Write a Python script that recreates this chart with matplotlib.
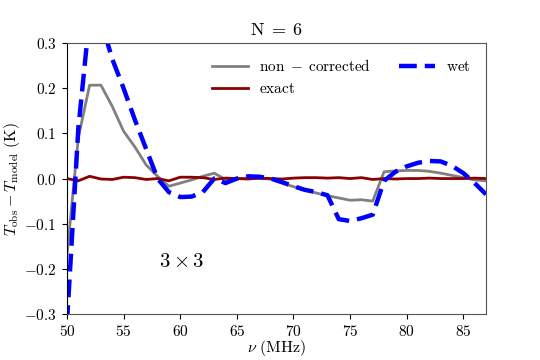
import numpy as np
import matplotlib
matplotlib.use('Agg')
import matplotlib.pyplot as plt

# frequencias (MHz)
nu = np.arange(50, 88)

# residuos (K)
non_corrected = [-0.17, 0.09, 0.207, 0.207, 0.16, 0.105, 0.07, 0.03, 0.005, -0.017,
                 -0.01, -0.003, 0.005, 0.012, -0.002, 0.0, 0.001, 0.0, -0.001, -0.01,
                 -0.018, -0.025, -0.032, -0.038, -0.043, -0.048, -0.047, -0.05, 0.015, 0.017,
                 0.018, 0.018, 0.016, 0.012, 0.007, 0.002, -0.003, -0.005]
exact = [0.0, -0.005, 0.005, -0.001, -0.002, 0.003, 0.002, -0.002, 0.0, -0.005,
         0.003, 0.003, 0.002, -0.002, 0.001, 0.0, -0.001, 0.001, 0.0, -0.001,
         0.001, 0.002, 0.002, 0.001, 0.002, 0.0, 0.002, -0.002, 0.0, -0.001,
         0.0, 0.0, 0.001, 0.0, 0.0, 0.0, 0.001, 0.0]
wet = [-0.32, 0.11, 0.36, 0.35, 0.265, 0.2, 0.13, 0.065, 0.0, -0.03,
       -0.041, -0.04, -0.03, 0.0, -0.01, 0.0, 0.005, 0.004, 0.0, -0.008,
       -0.017, -0.025, -0.03, -0.037, -0.09, -0.094, -0.088, -0.08, -0.005, 0.015,
       0.027, 0.035, 0.039, 0.038, 0.028, 0.012, -0.01, -0.035]

plt.rcParams['mathtext.fontset'] = 'cm'
plt.rcParams['font.family'] = 'serif'
plt.rcParams['font.serif'] = ['cmr10', 'DejaVu Serif']
plt.rcParams['axes.formatter.use_mathtext'] = True
plt.rcParams['axes.unicode_minus'] = True

fig, ax = plt.subplots(figsize=(5.4, 3.6), dpi=100)
fig.subplots_adjust(left=0.124, right=0.9, bottom=0.128, top=0.88)

ax.plot(nu, non_corrected, color='grey', lw=2, label=r'$\rm{non}\;-\;\rm{corrected}$')
ax.plot(nu, exact, color='darkred', lw=2, label=r'$\rm{exact}$')
ax.plot(nu, wet, color='blue', lw=3.2, ls='--', dashes=(4, 1.8), label=r'$\rm{wet}$')

ax.set_xlim(50, 87)
ax.set_ylim(-0.3, 0.3)
ax.set_xticks([50, 55, 60, 65, 70, 75, 80, 85])
ax.set_yticks([-0.3, -0.2, -0.1, 0.0, 0.1, 0.2, 0.3])
ax.tick_params(labelsize=11, pad=4)

ax.set_xlabel(r'$\nu\ \rm{(MHz)}$', fontsize=11.5, labelpad=-1)
ax.set_ylabel(r'$T_{\rm obs} - T_{\rm model}\ \rm{(K)}$', fontsize=11.5, labelpad=1)
ax.set_title(r'$\mathrm{N}\;=\;6$', fontsize=13, pad=6)

ax.text(60.1, -0.185, r'$3 \times 3$', fontsize=15, ha='center', va='center')

ax.legend(loc='upper right', ncol=2, frameon=False, fontsize=11,
          handlelength=2.4, handletextpad=0.7, columnspacing=1.8, borderaxespad=0.6)

for side in ['top', 'right', 'bottom']:
    ax.spines[side].set_color('#555555')

plt.savefig('out.png')
